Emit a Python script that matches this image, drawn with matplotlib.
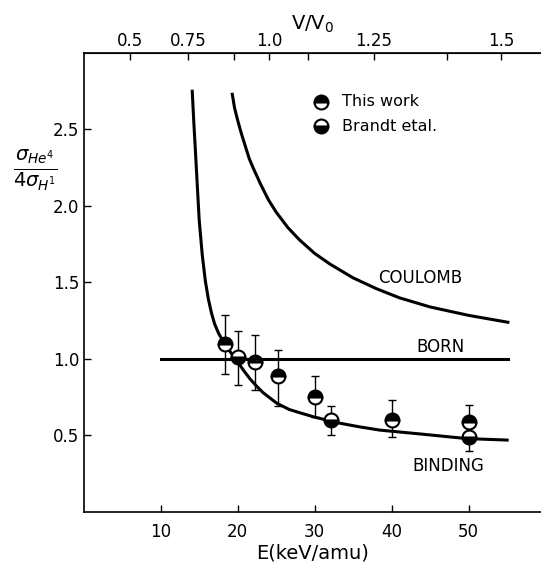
import numpy as np
import matplotlib.pyplot as plt

# measured ratios, This work (top half filled)
this_E = [18.3, 22.2, 25.2, 30.0, 40.0, 50.0]
this_y = [1.10, 0.98, 0.89, 0.75, 0.60, 0.59]
this_lo = [0.90, 0.80, 0.69, 0.62, 0.49, 0.59]
this_hi = [1.29, 1.16, 1.06, 0.89, 0.73, 0.70]

# Brandt et al. (bottom half filled)
brandt_E = [20.1, 32.1, 50.0]
brandt_y = [1.01, 0.60, 0.49]
brandt_lo = [0.83, 0.50, 0.40]
brandt_hi = [1.18, 0.69, 0.49]

# theory curves
born_E = [10.0, 55.1]
born_y = [1.0, 1.0]

coulomb_E = [19.3, 19.6, 20.0, 20.5, 21.0, 21.5, 22.0, 23.0, 24.0, 25.0,
             26.5, 28.0, 30.0, 32.0, 35.0, 38.0, 41.0, 45.0, 50.0, 55.1]
coulomb_y = [2.73, 2.64, 2.56, 2.47, 2.39, 2.31, 2.25, 2.14, 2.04, 1.96,
             1.86, 1.78, 1.69, 1.62, 1.53, 1.46, 1.40, 1.34, 1.285, 1.24]

binding_E = [14.1, 14.3, 14.5, 14.75, 15.0, 15.4, 15.8, 16.2, 16.6, 17.0,
             17.5, 18.0, 18.6, 19.2, 19.9, 20.7, 21.6, 22.5, 23.3, 24.2,
             25.1, 26.7, 28.3, 30.0, 33.3, 36.0, 38.5, 43.7, 49.7, 55.0]
binding_y = [2.75, 2.55, 2.37, 2.14, 1.91, 1.68, 1.51, 1.39, 1.30, 1.23,
             1.17, 1.125, 1.08, 1.035, 0.99, 0.93, 0.87, 0.82, 0.78, 0.745,
             0.71, 0.67, 0.645, 0.62, 0.58, 0.555, 0.535, 0.51, 0.48, 0.47]

E_ticks = [10, 20, 30, 40, 50]
y_ticks = [0.5, 1.0, 1.5, 2.0, 2.5]
y_labels = ['0.5', '1.0', '1.5', '2.0', '2.5']
v_ticks = [0.5, 0.75, 0.9, 1.0, 1.1, 1.25, 1.4, 1.5]
v_labels = ['0.5', '0.75', '', '1.0', '', '1.25', '', '1.5']
E0 = 24.1  # keV/amu for V = V0

fig = plt.figure(figsize=(5.41, 5.63), dpi=100)
ax = fig.add_axes([0.1547, 0.0906, 0.8453, 0.8153])

lw = 2.2
ax.plot(born_E, born_y, color='black', lw=lw)
ax.plot(coulomb_E, coulomb_y, color='black', lw=lw)
ax.plot(binding_E, binding_y, color='black', lw=lw)


def err(y, lo, hi):
    y, lo, hi = map(np.array, (y, lo, hi))
    return [y - lo, hi - y]


eb = dict(fmt='none', ecolor='black', elinewidth=1, capsize=3, capthick=1)
ax.errorbar(this_E, this_y, yerr=err(this_y, this_lo, this_hi), **eb)
ax.errorbar(brandt_E, brandt_y, yerr=err(brandt_y, brandt_lo, brandt_hi), **eb)

mk = dict(linestyle='none', marker='o', markersize=10, markeredgecolor='black',
          markerfacecolor='black', markerfacecoloralt='white', markeredgewidth=1.5)
ax.plot(this_E, this_y, fillstyle='top', **mk, zorder=5)
ax.plot(brandt_E, brandt_y, fillstyle='bottom', **mk, zorder=5)

# legend
ax.plot([30.8], [2.68], fillstyle='top', **mk)
ax.plot([30.8], [2.52], fillstyle='bottom', **mk)
ax.text(33.6, 2.68, 'This work', fontsize=11.5, va='center')
ax.text(33.6, 2.52, 'Brandt etal.', fontsize=11.5, va='center')

ax.text(43.7, 1.53, 'COULOMB', fontsize=12, ha='center', va='center')
ax.text(46.3, 1.08, 'BORN', fontsize=12, ha='center', va='center')
ax.text(47.3, 0.30, 'BINDING', fontsize=12, ha='center', va='center')

ax.set_xlim(0, 59.4)
ax.set_ylim(0, 3.0)
ax.set_xticks(E_ticks)
ax.set_yticks(y_ticks)
ax.set_yticklabels(y_labels)
ax.tick_params(direction='in', length=5, width=1, labelsize=12)
ax.tick_params(axis='x', pad=8)
ax.tick_params(axis='y', pad=3)
ax.spines['right'].set_visible(False)
for s in ('left', 'bottom', 'top'):
    ax.spines[s].set_linewidth(1.2)

ax.set_xlabel('E(keV/amu)', fontsize=14, labelpad=2)

top = ax.secondary_xaxis('top', functions=(lambda e: np.sqrt(np.clip(e, 0, None) / E0),
                                           lambda v: E0 * np.asarray(v) ** 2))
top.set_xticks(v_ticks)
top.set_xticklabels(v_labels)
top.tick_params(direction='in', length=5, width=1, labelsize=12, pad=2)
top.set_xlabel('V/V$_0$', fontsize=14, labelpad=2)

ax.text(-0.105, 0.745, r'$\frac{\sigma_{He^4}}{4\sigma_{H^1}}$', transform=ax.transAxes,
        fontsize=20, ha='center', va='center')

fig.savefig('out.png', dpi=100)
